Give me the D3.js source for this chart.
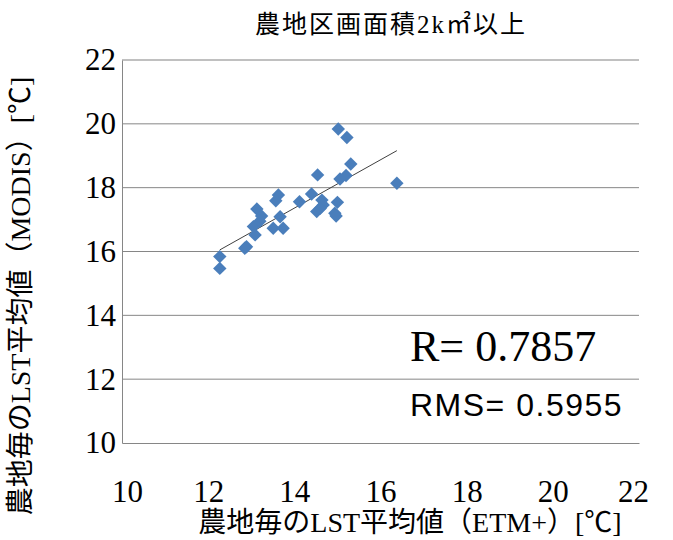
<!DOCTYPE html>
<html>
<head>
<meta charset="utf-8">
<script src="https://cdn.jsdelivr.net/npm/d3@7"></script>
<style>
  body { margin: 0; background: #fff; }
  text { font-family: "Liberation Serif", "Noto Sans CJK JP", serif; fill: #000; }
</style>
</head>
<body>
<span></span>
<script>
let width = 673;
let height = 540;

// 農地毎のLST平均値
let etmValues = [15.02, 15.22, 15.31, 14.54, 15.20, 15.06, 16.38, 13.63, 13.57, 14.12,
                 14.40, 14.64, 14.67, 14.52, 15.00, 14.94, 14.97, 13.13, 13.24, 13.67,
                 13.05, 13.09, 13.51, 13.74, 12.89, 12.85, 12.27, 12.27, 13.20, 14.60];
let modisValues = [19.84, 19.57, 18.74, 18.40, 18.38, 18.27, 18.14, 17.77, 17.59, 17.56,
                   17.80, 17.61, 17.46, 17.25, 17.54, 17.20, 17.11, 17.33, 17.11, 17.09,
                   16.78, 16.52, 16.73, 16.73, 16.15, 16.10, 15.84, 15.47, 16.95, 17.35];
let trendX = [12.27, 16.38];
let trendY = [16.05, 19.16];
let tickValues = [10, 12, 14, 16, 18, 20, 22];

let svg = d3.select("span")
    .append("svg")
    .attr("width", width)
    .attr("height", height);

let x = d3.scaleLinear().domain([10, 22]).range([122, 639]);
let y = d3.scaleLinear().domain([10, 22]).range([443, 60]);

// グリッド線
svg.append("g")
    .selectAll("line")
    .data(tickValues.slice(1))
    .join("line")
    .attr("x1", x(10))
    .attr("x2", x(22))
    .attr("y1", d => y(d))
    .attr("y2", d => y(d))
    .style("stroke", d => d == 22 ? "#c0c0c0" : "#868686")
    .style("stroke-width", d => d == 22 ? 2 : 1);

// 軸
let yAxis = svg.append("g")
    .attr("transform", "translate(" + x(10) + ",0)")
    .call(d3.axisLeft(y).tickValues(tickValues).tickSize(0).tickPadding(6));
let xAxis = svg.append("g")
    .attr("transform", "translate(0," + y(10) + ")")
    .call(d3.axisBottom(x).tickValues(tickValues).tickSize(0).tickPadding(37));
[yAxis, xAxis].forEach(function (a) {
    a.select(".domain").style("stroke", "#868686");
    a.selectAll("text").style("font-size", "31px").style("font-family", "Liberation Serif");
});
// 端のラベルは少し内側
xAxis.selectAll(".tick text")
    .attr("dx", d => d == 10 ? 5 : d == 22 ? -6 : 0);

// 近似直線
svg.append("line")
    .attr("x1", x(trendX[0]))
    .attr("y1", y(trendY[0]))
    .attr("x2", x(trendX[1]))
    .attr("y2", y(trendY[1]))
    .style("stroke", "#404040")
    .style("stroke-width", 1);

// 点
svg.append("g")
    .selectAll("path")
    .data(etmValues)
    .join("path")
    .attr("d", d3.symbol(d3.symbolSquare, 90))
    .attr("transform", (d, i) => "translate(" + x(d) + "," + y(modisValues[i]) + ") rotate(45)")
    .style("fill", "#4a7ebb");

// タイトル
svg.append("text")
    .attr("x", 391)
    .attr("y", 33)
    .attr("text-anchor", "middle")
    .style("font-size", "25px")
    .style("letter-spacing", "2px")
    .text("農地区画面積2k㎡以上");

svg.append("text")
    .attr("x", 410)
    .attr("y", 532)
    .attr("text-anchor", "middle")
    .style("font-size", "28px")
    .text("農地毎のLST平均値（ETM+）[℃]");

svg.append("text")
    .attr("transform", "translate(30,296) rotate(-90)")
    .attr("text-anchor", "middle")
    .style("font-size", "28px")
    .text("農地毎のLST平均値（MODIS）[℃]");

svg.append("text")
    .attr("x", 410)
    .attr("y", 361)
    .style("font-size", "44px")
    .text("R= 0.7857");

svg.append("text")
    .attr("x", 410)
    .attr("y", 416)
    .style("font-family", "Liberation Sans")
    .style("font-size", "32px")
    .style("letter-spacing", "1.5px")
    .text("RMS= 0.5955");
</script>
</body>
</html>
